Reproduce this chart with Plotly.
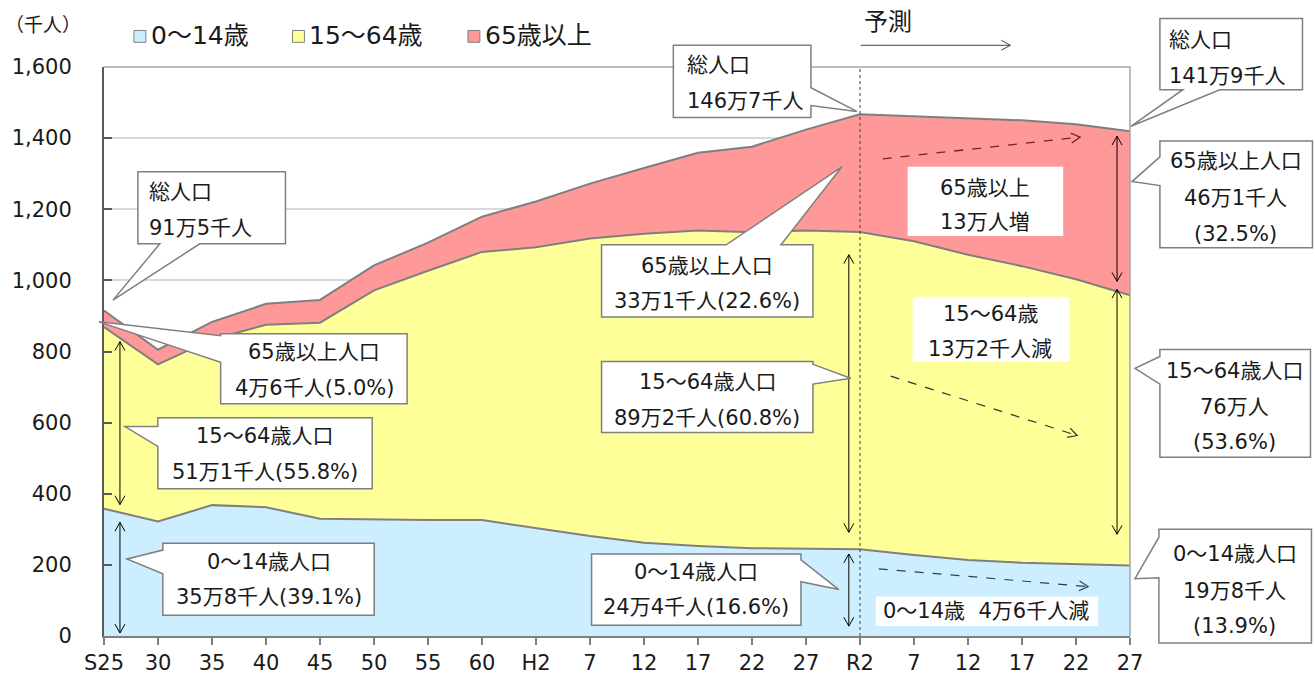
import plotly.graph_objects as go

# Population by age group (thousands), census years and projection
labels = ["S25", "30", "35", "40", "45", "50", "55", "60", "H2", "7", "12",
          "17", "22", "27", "R2", "7", "12", "17", "22", "27"]
age0_14 = [358, 322, 368, 362, 330, 327, 326, 326, 304, 281, 262,
           253, 247, 246, 244, 228, 214, 206, 201, 198]
age15_64 = [511, 442, 466, 513, 551, 645, 701, 754, 789, 837, 869,
            887, 888, 894, 892, 882, 858, 834, 802, 760]
age65 = [46, 41, 49, 59, 64, 70, 79, 99, 129, 154, 185,
         219, 241, 284, 331, 352, 384, 410, 436, 461]
series_names = ["0～14歳", "15～64歳", "65歳以上"]
y_ticks = [0, 200, 400, 600, 800, 1000, 1200, 1400, 1600]

FONT = "DejaVu Sans, Noto Sans CJK JP"
TXT = "#1a1a1a"
EDGE = "#7f7f7f"
fills = ["#cceeff", "#ffff99", "#ff9999"]

# figure geometry (pixels)
FW, FH = 1315, 687
L, R, T, B = 101, 1130, 67, 643
PW, PH = R - L, B - T

xs = list(range(len(labels)))


def px(x):
    return (x - L) / PW


def py(y):
    return (B - y) / PH


fig = go.Figure()
for name, vals, col in zip(series_names, [age0_14, age15_64, age65], fills):
    fig.add_trace(go.Scatter(
        x=xs, y=vals, name=name, stackgroup="pop", mode="lines",
        line=dict(color=EDGE, width=2), fillcolor=col, hoverinfo="skip"))

shapes = []
annotations = []


def P(x, y):
    return f"{px(x):.5f},{py(y):.5f}"


def callout(x0, y0, x1, y1, side=None, b0=None, b1=None, tip=None):
    pts = [(x0, y0)]
    if side == "top":
        pts += [(b0, y0), tip, (b1, y0)]
    pts.append((x1, y0))
    if side == "right":
        pts += [(x1, b0), tip, (x1, b1)]
    pts.append((x1, y1))
    if side == "bottom":
        pts += [(b1, y1), tip, (b0, y1)]
    pts.append((x0, y1))
    if side == "left":
        pts += [(x0, b1), tip, (x0, b0)]
    path = "M" + " L".join(P(a, b) for a, b in pts) + " Z"
    shapes.append(dict(type="path", path=path, xref="paper", yref="paper",
                       fillcolor="white", line=dict(color=EDGE, width=1.5),
                       layer="above"))


def plain_box(x0, y0, x1, y1):
    shapes.append(dict(type="rect", xref="paper", yref="paper",
                       x0=px(x0), x1=px(x1), y0=py(y1), y1=py(y0),
                       fillcolor="white", line=dict(width=0), layer="above"))


def text_lines(lines, x, ys, anchor="center", size=21):
    for s, y in zip(lines, ys):
        annotations.append(dict(text=s, x=px(x), y=py(y), xref="paper",
                                yref="paper", xanchor=anchor, yanchor="middle",
                                showarrow=False,
                                font=dict(family=FONT, size=size, color=TXT)))


def head(x0, y0, x1, y1, size=9, spread=5):
    dx, dy = x1 - x0, y1 - y0
    n = (dx * dx + dy * dy) ** 0.5
    ux, uy = dx / n, dy / n
    a = (x1 - size * ux - spread * uy, y1 - size * uy + spread * ux)
    b = (x1 - size * ux + spread * uy, y1 - size * uy - spread * ux)
    return f"M{P(*a)} L{P(x1, y1)} L{P(*b)}"


def arrow(x0, y0, x1, y1, color="#000000", width=1, dash="solid", both=False):
    shapes.append(dict(type="path", path=f"M{P(x0, y0)} L{P(x1, y1)}",
                       xref="paper", yref="paper", layer="above",
                       line=dict(color=color, width=width, dash=dash)))
    hp = head(x0, y0, x1, y1)
    if both:
        hp += " " + head(x1, y1, x0, y0)
    shapes.append(dict(type="path", path=hp, xref="paper", yref="paper",
                       layer="above", line=dict(color=color, width=width)))


# plot frame (top and right edges)
shapes.append(dict(type="path", path=f"M{P(L, T)} L{P(R, T)} L{P(R, B)}",
                   xref="paper", yref="paper", layer="above",
                   line=dict(color="#a6a6a6", width=1.5)))

# boundary between census results and projection
r2 = labels.index("R2")
shapes.append(dict(type="line", xref="x", yref="y", x0=r2, x1=r2, y0=0,
                   y1=1600, layer="above",
                   line=dict(color="#404040", width=1, dash="dot")))

# vertical double arrows
arrow(117, 528, 117, 640, both=True)
arrow(117, 345, 117, 510, both=True)
arrow(848, 560, 848, 633, both=True)
arrow(848, 257, 848, 538, both=True)
arrow(1117, 137, 1117, 284, both=True)
arrow(1117, 292, 1117, 540, both=True)

# trend arrows in projection period
arrow(882, 160, 1080, 138, color="#7b2020", width=1.3, dash="dash")
arrow(890, 380, 1077, 440, color="#333333", width=1.2, dash="dash")
arrow(878, 575, 1088, 593, color="#2e3f5c", width=1.2, dash="dash")

# 予測 marker
arrow(860, 45, 1010, 45, color="#404040")
text_lines(["予測"], 861, [21], anchor="left", size=24)

# callouts
callout(135, 173, 283, 246, "bottom", 157, 197, (110, 303))
text_lines(["総人口", "91万5千人"], 144, [194, 230], anchor="left")

callout(218, 337, 405, 408, "left", 339, 366, (96, 325))
text_lines(["65歳以上人口", "4万6千人(5.0%)"], 312, [356, 392])

callout(155, 422, 370, 494, "left", 431, 451, (122, 431))
text_lines(["15～64歳人口", "51万1千人(55.8%)"], 262, [441, 477])

callout(160, 549, 372, 622, "left", 556, 580, (124, 565))
text_lines(["0～14歳人口", "35万8千人(39.1%)"], 266, [568, 604])

callout(600, 247, 812, 320, "top", 725, 780, (841, 168))
text_lines(["65歳以上人口", "33万1千人(22.6%)"], 706, [268, 304])

callout(600, 365, 812, 437, "right", 368, 388, (850, 382))
text_lines(["15～64歳人口", "89万2千人(60.8%)"], 706, [386, 422])

callout(590, 560, 800, 632, "right", 566, 588, (838, 596))
text_lines(["0～14歳人口", "24万4千人(16.6%)"], 695, [578, 614])

callout(672, 45, 810, 118, "right", 88, 106, (856, 112))
text_lines(["総人口", "146万7千人"], 684, [65, 101], anchor="left")

callout(1160, 18, 1303, 90, "bottom", 1183, 1220, (1131, 127))
text_lines(["総人口", "141万9千人"], 1167, [40, 76], anchor="left")

callout(1160, 142, 1313, 250, "left", 158, 187, (1132, 183))
text_lines(["65歳以上人口", "46万1千人", "(32.5%)"], 1236, [162, 200, 236])

callout(1160, 353, 1311, 462, "left", 360, 388, (1135, 372))
text_lines(["15～64歳人口", "76万人", "(53.6%)"], 1235, [375, 411, 447])

callout(1159, 535, 1312, 650, "left", 543, 584, (1135, 585))
text_lines(["0～14歳人口", "19万8千人", "(13.9%)"], 1235, [560, 597, 633])

# change labels in projection period
plain_box(907, 168, 1063, 238)
text_lines(["65歳以上", "13万人増"], 985, [189, 224])
plain_box(912, 300, 1069, 365)
text_lines(["15～64歳", "13万2千人減"], 990, [317, 352])
plain_box(875, 603, 1098, 633)
text_lines(["0～14歳\u00a0\u00a04万6千人減"], 986, [618])

# legend
for name, col, x0 in zip(series_names, fills, [131, 290, 466]):
    shapes.append(dict(type="rect", xref="paper", yref="paper",
                       x0=px(x0), x1=px(x0 + 12), y0=py(42), y1=py(30),
                       fillcolor=col, line=dict(color=EDGE, width=1)))
    text_lines([name], x0 + 15, [35], anchor="left", size=25)

# unit label
text_lines(["（千人）"], 0, [24], anchor="left", size=19)

fig.update_layout(
    width=FW, height=FH,
    margin=dict(l=L, r=FW - R, t=T, b=FH - B),
    plot_bgcolor="white", paper_bgcolor="white",
    showlegend=False,
    shapes=shapes, annotations=annotations,
    font=dict(family=FONT, size=21, color=TXT),
    xaxis=dict(range=[0, len(labels) - 1], tickvals=xs, ticktext=labels,
               showgrid=False, zeroline=False, showline=True,
               linecolor=EDGE, linewidth=2, ticks="outside", ticklen=7,
               tickcolor=EDGE, tickwidth=1.5,
               tickfont=dict(family=FONT, size=21, color=TXT)),
    yaxis=dict(range=[0, 1600], tickvals=y_ticks, tickformat=",d",
               showgrid=True, gridcolor="#d9d9d9", gridwidth=1.5,
               zeroline=False, showline=True, linecolor="#595959",
               linewidth=2, ticks="inside", ticklen=8, tickcolor="#595959",
               tickwidth=1.5, ticklabelstandoff=26,
               tickfont=dict(family=FONT, size=21, color=TXT)),
)

fig.write_html("out.html")
